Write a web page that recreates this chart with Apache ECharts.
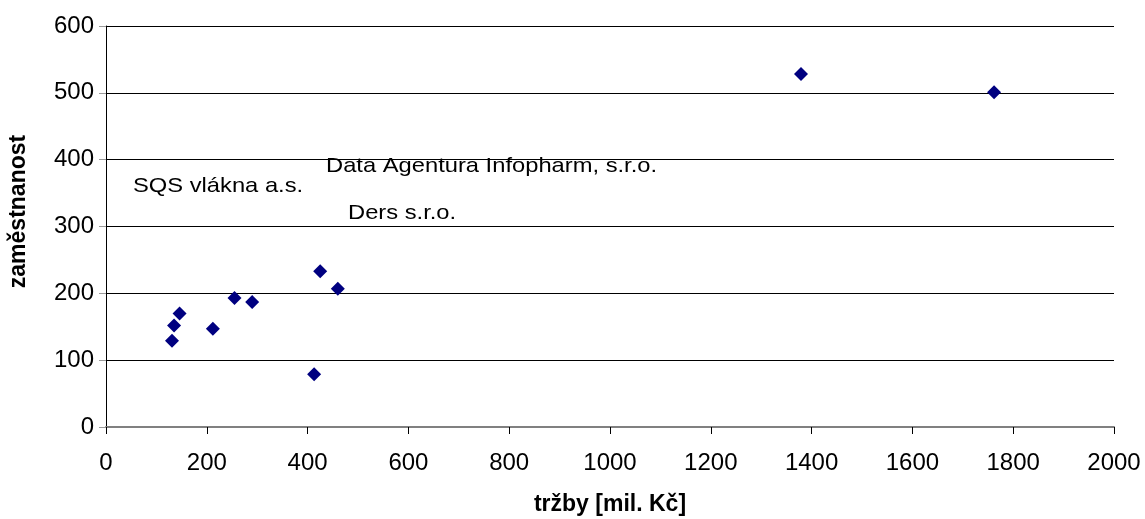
<!DOCTYPE html>
<html>
<head>
<meta charset="utf-8">
<script src="https://cdn.jsdelivr.net/npm/echarts@6/dist/echarts.min.js"></script>
<style>
  html, body { margin: 0; padding: 0; background: #fff; }
  #chart { width: 1145px; height: 519px; }
</style>
</head>
<body>
<div id="chart"></div>
<script>
// hodnoty
const trzby = [425, 460, 255, 290, 146, 135, 131, 212, 413, 1762, 1379];
const zamestnanost = [233, 207, 193, 187, 170, 152, 129, 147, 79, 501, 528];
const xTicks = [0, 200, 400, 600, 800, 1000, 1200, 1400, 1600, 1800, 2000];
const yTicks = [0, 100, 200, 300, 400, 500, 600];
const popisky = ['SQS vlákna a.s.', 'Data Agentura Infopharm, s.r.o.', 'Ders s.r.o.'];

const font = 'Liberation Sans, Arial, sans-serif';
const chart = echarts.init(document.getElementById('chart'));

// volné popisky (jako v původním grafu, nejsou u bodů)
function popisek(text, x, y) {
  return {
    type: 'text', x: x, y: y, scaleX: 1.13,
    style: { text: text, font: '21px ' + font, fill: '#000' }
  };
}

chart.setOption({
  animation: false,
  grid: { left: 106, right: 31, top: 26, bottom: 92, outerBoundsMode: 'none', containLabel: false },
  xAxis: {
    type: 'value',
    min: xTicks[0],
    max: xTicks[xTicks.length - 1],
    interval: 200,
    name: 'tržby [mil. Kč]',
    nameLocation: 'middle',
    nameGap: 66,
    nameTextStyle: { fontFamily: font, fontSize: 23, fontWeight: 'bold', color: '#000' },
    axisLine: { lineStyle: { color: '#808080', width: 2 } },
    axisTick: { show: true, length: 7, lineStyle: { color: '#000' } },
    axisLabel: { fontFamily: font, fontSize: 24, color: '#000', margin: 24, formatter: v => String(v) },
    splitLine: { show: false }
  },
  yAxis: {
    type: 'value',
    min: yTicks[0],
    max: yTicks[yTicks.length - 1],
    interval: 100,
    name: 'zaměstnanost',
    nameLocation: 'middle',
    nameGap: 76,
    nameTextStyle: { fontFamily: font, fontSize: 23, fontWeight: 'bold', color: '#000', padding: [0, 0, 0, 30] },
    axisLine: { show: true, lineStyle: { color: '#000', width: 1 } },
    axisTick: { show: true, length: 7, lineStyle: { color: '#999' } },
    axisLabel: { fontFamily: font, fontSize: 24, color: '#000', margin: 12, formatter: v => String(v) },
    splitLine: { show: true, lineStyle: { color: '#000', width: 1 } }
  },
  series: [{
    type: 'scatter',
    symbol: 'diamond',
    symbolSize: 14,
    itemStyle: { color: '#000080', opacity: 1 },
    data: trzby.map((x, i) => [x, zamestnanost[i]])
  }],
  graphic: [
    popisek(popisky[0], 133, 176),
    popisek(popisky[1], 326, 156),
    popisek(popisky[2], 348, 203)
  ]
});
</script>
</body>
</html>
